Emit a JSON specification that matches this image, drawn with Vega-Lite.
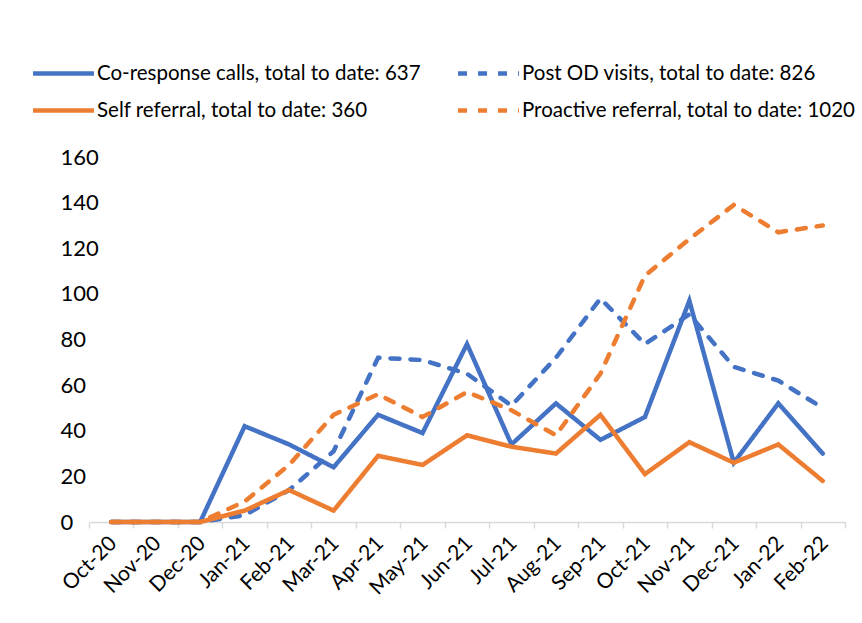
{
  "$schema": "https://vega.github.io/schema/vega-lite/v6.json",
  "autosize": "none",
  "width": 756,
  "height": 365,
  "padding": {"left": 89, "top": 157, "right": 17, "bottom": 101},
  "background": "white",
  "config": {
    "font": "Lato",
    "view": {"stroke": null}
  },
  "data": {
    "values": [
      {"month": "Oct-20", "series": "Co-response calls, total to date: 637", "value": 0},
      {"month": "Nov-20", "series": "Co-response calls, total to date: 637", "value": 0},
      {"month": "Dec-20", "series": "Co-response calls, total to date: 637", "value": 0},
      {"month": "Jan-21", "series": "Co-response calls, total to date: 637", "value": 42},
      {"month": "Feb-21", "series": "Co-response calls, total to date: 637", "value": 34},
      {"month": "Mar-21", "series": "Co-response calls, total to date: 637", "value": 24},
      {"month": "Apr-21", "series": "Co-response calls, total to date: 637", "value": 47},
      {"month": "May-21", "series": "Co-response calls, total to date: 637", "value": 39},
      {"month": "Jun-21", "series": "Co-response calls, total to date: 637", "value": 78},
      {"month": "Jul-21", "series": "Co-response calls, total to date: 637", "value": 34},
      {"month": "Aug-21", "series": "Co-response calls, total to date: 637", "value": 52},
      {"month": "Sep-21", "series": "Co-response calls, total to date: 637", "value": 36},
      {"month": "Oct-21", "series": "Co-response calls, total to date: 637", "value": 46},
      {"month": "Nov-21", "series": "Co-response calls, total to date: 637", "value": 97},
      {"month": "Dec-21", "series": "Co-response calls, total to date: 637", "value": 26},
      {"month": "Jan-22", "series": "Co-response calls, total to date: 637", "value": 52},
      {"month": "Feb-22", "series": "Co-response calls, total to date: 637", "value": 30},

      {"month": "Oct-20", "series": "Post OD visits, total to date: 826", "value": 0},
      {"month": "Nov-20", "series": "Post OD visits, total to date: 826", "value": 0},
      {"month": "Dec-20", "series": "Post OD visits, total to date: 826", "value": 0},
      {"month": "Jan-21", "series": "Post OD visits, total to date: 826", "value": 3},
      {"month": "Feb-21", "series": "Post OD visits, total to date: 826", "value": 14},
      {"month": "Mar-21", "series": "Post OD visits, total to date: 826", "value": 31},
      {"month": "Apr-21", "series": "Post OD visits, total to date: 826", "value": 72},
      {"month": "May-21", "series": "Post OD visits, total to date: 826", "value": 71},
      {"month": "Jun-21", "series": "Post OD visits, total to date: 826", "value": 65},
      {"month": "Jul-21", "series": "Post OD visits, total to date: 826", "value": 51},
      {"month": "Aug-21", "series": "Post OD visits, total to date: 826", "value": 72},
      {"month": "Sep-21", "series": "Post OD visits, total to date: 826", "value": 98},
      {"month": "Oct-21", "series": "Post OD visits, total to date: 826", "value": 78},
      {"month": "Nov-21", "series": "Post OD visits, total to date: 826", "value": 91},
      {"month": "Dec-21", "series": "Post OD visits, total to date: 826", "value": 68},
      {"month": "Jan-22", "series": "Post OD visits, total to date: 826", "value": 62},
      {"month": "Feb-22", "series": "Post OD visits, total to date: 826", "value": 50},

      {"month": "Oct-20", "series": "Self referral, total to date: 360", "value": 0},
      {"month": "Nov-20", "series": "Self referral, total to date: 360", "value": 0},
      {"month": "Dec-20", "series": "Self referral, total to date: 360", "value": 0},
      {"month": "Jan-21", "series": "Self referral, total to date: 360", "value": 5},
      {"month": "Feb-21", "series": "Self referral, total to date: 360", "value": 14},
      {"month": "Mar-21", "series": "Self referral, total to date: 360", "value": 5},
      {"month": "Apr-21", "series": "Self referral, total to date: 360", "value": 29},
      {"month": "May-21", "series": "Self referral, total to date: 360", "value": 25},
      {"month": "Jun-21", "series": "Self referral, total to date: 360", "value": 38},
      {"month": "Jul-21", "series": "Self referral, total to date: 360", "value": 33},
      {"month": "Aug-21", "series": "Self referral, total to date: 360", "value": 30},
      {"month": "Sep-21", "series": "Self referral, total to date: 360", "value": 47},
      {"month": "Oct-21", "series": "Self referral, total to date: 360", "value": 21},
      {"month": "Nov-21", "series": "Self referral, total to date: 360", "value": 35},
      {"month": "Dec-21", "series": "Self referral, total to date: 360", "value": 26},
      {"month": "Jan-22", "series": "Self referral, total to date: 360", "value": 34},
      {"month": "Feb-22", "series": "Self referral, total to date: 360", "value": 18},

      {"month": "Oct-20", "series": "Proactive referral, total to date: 1020", "value": 0},
      {"month": "Nov-20", "series": "Proactive referral, total to date: 1020", "value": 0},
      {"month": "Dec-20", "series": "Proactive referral, total to date: 1020", "value": 0},
      {"month": "Jan-21", "series": "Proactive referral, total to date: 1020", "value": 9},
      {"month": "Feb-21", "series": "Proactive referral, total to date: 1020", "value": 25},
      {"month": "Mar-21", "series": "Proactive referral, total to date: 1020", "value": 47},
      {"month": "Apr-21", "series": "Proactive referral, total to date: 1020", "value": 56},
      {"month": "May-21", "series": "Proactive referral, total to date: 1020", "value": 46},
      {"month": "Jun-21", "series": "Proactive referral, total to date: 1020", "value": 57},
      {"month": "Jul-21", "series": "Proactive referral, total to date: 1020", "value": 49},
      {"month": "Aug-21", "series": "Proactive referral, total to date: 1020", "value": 38},
      {"month": "Sep-21", "series": "Proactive referral, total to date: 1020", "value": 65},
      {"month": "Oct-21", "series": "Proactive referral, total to date: 1020", "value": 108},
      {"month": "Nov-21", "series": "Proactive referral, total to date: 1020", "value": 124},
      {"month": "Dec-21", "series": "Proactive referral, total to date: 1020", "value": 139},
      {"month": "Jan-22", "series": "Proactive referral, total to date: 1020", "value": 127},
      {"month": "Feb-22", "series": "Proactive referral, total to date: 1020", "value": 130}
    ]
  },
  "mark": {"type": "line", "strokeWidth": 4.5, "strokeJoin": "miter", "strokeCap": "round"},
  "encoding": {
    "x": {
      "field": "month",
      "type": "ordinal",
      "sort": null,
      "scale": {"type": "band", "paddingInner": 0, "paddingOuter": 0},
      "axis": {
        "title": null,
        "labelAngle": -45,
        "labelFont": "Lato",
        "labelFontSize": 21,
        "labelColor": "#000000",
        "labelPadding": 4,
        "labelOffset": -6,
        "tickBand": "extent",
        "tickColor": "#d9d9d9",
        "tickSize": 6,
        "tickWidth": 1.5,
        "domainColor": "#d9d9d9",
        "domainWidth": 1.5,
        "grid": false
      }
    },
    "y": {
      "field": "value",
      "type": "quantitative",
      "scale": {"domain": [0, 160], "nice": false},
      "axis": {
        "title": null,
        "values": [0, 20, 40, 60, 80, 100, 120, 140, 160],
        "labelFont": "Lato",
        "labelFontSize": 22,
        "labelColor": "#000000",
        "labelAlign": "left",
        "labelPadding": 29,
        "ticks": false,
        "domain": false,
        "grid": false
      }
    },
    "color": {
      "field": "series",
      "type": "nominal",
      "scale": {
        "domain": [
          "Co-response calls, total to date: 637",
          "Self referral, total to date: 360",
          "Post OD visits, total to date: 826",
          "Proactive referral, total to date: 1020"
        ],
        "range": ["#4472C4", "#ED7D31", "#4472C4", "#ED7D31"]
      },
      "legend": {
        "title": null,
        "orient": "none",
        "legendX": -47,
        "legendY": -105,
        "columns": 2,
        "columnPadding": 28,
        "rowPadding": 5,
        "symbolType": "M-1.6,0H1.6",
        "symbolSize": 1450,
        "symbolStrokeWidth": 4.5,
        "symbolFillColor": "transparent",
        "symbolOffset": 0,
        "labelOffset": 12,
        "labelFont": "Lato",
        "labelFontSize": 20.5,
        "labelColor": "#000000",
        "labelLimit": 420
      }
    },
    "strokeDash": {
      "field": "series",
      "type": "nominal",
      "scale": {
        "domain": [
          "Co-response calls, total to date: 637",
          "Self referral, total to date: 360",
          "Post OD visits, total to date: 826",
          "Proactive referral, total to date: 1020"
        ],
        "range": [[1, 0], [1, 0], [9, 11], [9, 11]]
      },
      "legend": null
    }
  }
}
